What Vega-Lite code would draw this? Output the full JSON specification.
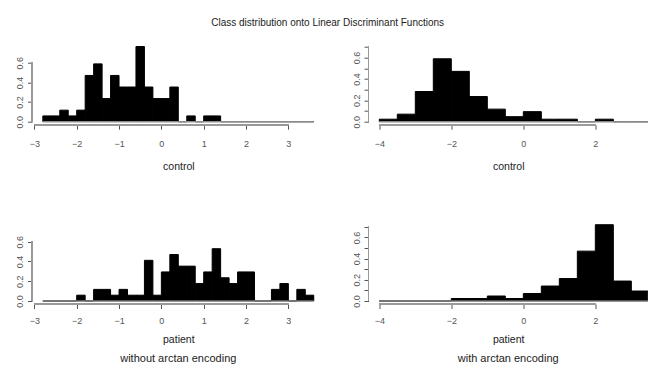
{
  "$schema": "https://vega.github.io/schema/vega-lite/v6.json",
  "autosize": {"type": "none"},
  "padding": {"left": 32, "top": 41.7, "right": 616, "bottom": 328.3},
  "background": "white",
  "title": {"text": "Class distribution onto Linear Discriminant Functions", "fontSize": 10, "font": "Liberation Sans", "fontWeight": "normal", "color": "#222", "anchor": "middle", "offset": 14, "dx": -5},
  "config": {
    "view": {"stroke": null},
    "font": "Liberation Sans",
    "axis": {"grid": false, "domain": false, "ticks": true, "tickColor": "#555", "tickSize": 4.5, "labelFont": "Liberation Sans", "labelFontSize": 9, "labelColor": "#555", "titleFont": "Liberation Sans", "titleFontSize": 10.5, "titleFontWeight": "normal", "titleColor": "#222"},
    "axisX": {"labelPadding": 10, "titlePadding": 13, "labelFlush": false},
    "axisY": {"labelPadding": 3, "title": null, "labelFlush": false, "labelAngle": 270, "labelAlign": "center", "labelBaseline": "bottom"},
    "title": {"font": "Liberation Sans", "fontSize": 11, "fontWeight": "normal", "color": "#222"}
  },
  "datasets": {
    "p1": [
      {"x0": -2.8, "x1": -2.6, "d": 0.0588},
      {"x0": -2.6, "x1": -2.4, "d": 0.0588},
      {"x0": -2.4, "x1": -2.2, "d": 0.1176},
      {"x0": -2.2, "x1": -2.0, "d": 0.0588},
      {"x0": -2.0, "x1": -1.8, "d": 0.1176},
      {"x0": -1.8, "x1": -1.6, "d": 0.4706},
      {"x0": -1.6, "x1": -1.4, "d": 0.5882},
      {"x0": -1.4, "x1": -1.2, "d": 0.2353},
      {"x0": -1.2, "x1": -1.0, "d": 0.4706},
      {"x0": -1.0, "x1": -0.8, "d": 0.3529},
      {"x0": -0.8, "x1": -0.6, "d": 0.3529},
      {"x0": -0.6, "x1": -0.4, "d": 0.7647},
      {"x0": -0.4, "x1": -0.2, "d": 0.3529},
      {"x0": -0.2, "x1": 0.0, "d": 0.2353},
      {"x0": 0.0, "x1": 0.2, "d": 0.2353},
      {"x0": 0.2, "x1": 0.4, "d": 0.3529},
      {"x0": 0.4, "x1": 0.6, "d": 0},
      {"x0": 0.6, "x1": 0.8, "d": 0.0588},
      {"x0": 0.8, "x1": 1.0, "d": 0},
      {"x0": 1.0, "x1": 1.2, "d": 0.0588},
      {"x0": 1.2, "x1": 1.4, "d": 0.0588},
      {"x0": 1.4, "x1": 1.6, "d": 0},
      {"x0": 1.6, "x1": 1.8, "d": 0},
      {"x0": 1.8, "x1": 2.0, "d": 0},
      {"x0": 2.0, "x1": 2.2, "d": 0},
      {"x0": 2.2, "x1": 2.4, "d": 0},
      {"x0": 2.4, "x1": 2.6, "d": 0},
      {"x0": 2.6, "x1": 2.8, "d": 0},
      {"x0": 2.8, "x1": 3.0, "d": 0},
      {"x0": 3.0, "x1": 3.2, "d": 0},
      {"x0": 3.2, "x1": 3.4, "d": 0},
      {"x0": 3.4, "x1": 3.6, "d": 0}
    ],
    "p2": [
      {"x0": -4.0, "x1": -3.5, "d": 0.0235},
      {"x0": -3.5, "x1": -3.0, "d": 0.0706},
      {"x0": -3.0, "x1": -2.5, "d": 0.2824},
      {"x0": -2.5, "x1": -2.0, "d": 0.5882},
      {"x0": -2.0, "x1": -1.5, "d": 0.4706},
      {"x0": -1.5, "x1": -1.0, "d": 0.2353},
      {"x0": -1.0, "x1": -0.5, "d": 0.1176},
      {"x0": -0.5, "x1": 0.0, "d": 0.0471},
      {"x0": 0.0, "x1": 0.5, "d": 0.0941},
      {"x0": 0.5, "x1": 1.0, "d": 0.0235},
      {"x0": 1.0, "x1": 1.5, "d": 0.0235},
      {"x0": 1.5, "x1": 2.0, "d": 0},
      {"x0": 2.0, "x1": 2.5, "d": 0.0235},
      {"x0": 2.5, "x1": 3.0, "d": 0},
      {"x0": 3.0, "x1": 3.5, "d": 0}
    ],
    "p3": [
      {"x0": -2.8, "x1": -2.6, "d": 0},
      {"x0": -2.6, "x1": -2.4, "d": 0},
      {"x0": -2.4, "x1": -2.2, "d": 0},
      {"x0": -2.2, "x1": -2.0, "d": 0},
      {"x0": -2.0, "x1": -1.8, "d": 0.0588},
      {"x0": -1.8, "x1": -1.6, "d": 0},
      {"x0": -1.6, "x1": -1.4, "d": 0.1176},
      {"x0": -1.4, "x1": -1.2, "d": 0.1176},
      {"x0": -1.2, "x1": -1.0, "d": 0.0588},
      {"x0": -1.0, "x1": -0.8, "d": 0.1176},
      {"x0": -0.8, "x1": -0.6, "d": 0.0588},
      {"x0": -0.6, "x1": -0.4, "d": 0.0588},
      {"x0": -0.4, "x1": -0.2, "d": 0.4118},
      {"x0": -0.2, "x1": 0.0, "d": 0.0588},
      {"x0": 0.0, "x1": 0.2, "d": 0.2941},
      {"x0": 0.2, "x1": 0.4, "d": 0.4706},
      {"x0": 0.4, "x1": 0.6, "d": 0.3529},
      {"x0": 0.6, "x1": 0.8, "d": 0.3529},
      {"x0": 0.8, "x1": 1.0, "d": 0.1765},
      {"x0": 1.0, "x1": 1.2, "d": 0.2941},
      {"x0": 1.2, "x1": 1.4, "d": 0.5294},
      {"x0": 1.4, "x1": 1.6, "d": 0.2353},
      {"x0": 1.6, "x1": 1.8, "d": 0.1765},
      {"x0": 1.8, "x1": 2.0, "d": 0.2941},
      {"x0": 2.0, "x1": 2.2, "d": 0.2941},
      {"x0": 2.2, "x1": 2.4, "d": 0},
      {"x0": 2.4, "x1": 2.6, "d": 0},
      {"x0": 2.6, "x1": 2.8, "d": 0.1176},
      {"x0": 2.8, "x1": 3.0, "d": 0.1765},
      {"x0": 3.0, "x1": 3.2, "d": 0},
      {"x0": 3.2, "x1": 3.4, "d": 0.1176},
      {"x0": 3.4, "x1": 3.6, "d": 0.0588}
    ],
    "p4": [
      {"x0": -4.0, "x1": -3.5, "d": 0},
      {"x0": -3.5, "x1": -3.0, "d": 0},
      {"x0": -3.0, "x1": -2.5, "d": 0},
      {"x0": -2.5, "x1": -2.0, "d": 0},
      {"x0": -2.0, "x1": -1.5, "d": 0.0235},
      {"x0": -1.5, "x1": -1.0, "d": 0.0235},
      {"x0": -1.0, "x1": -0.5, "d": 0.0471},
      {"x0": -0.5, "x1": 0.0, "d": 0.0235},
      {"x0": 0.0, "x1": 0.5, "d": 0.0706},
      {"x0": 0.5, "x1": 1.0, "d": 0.1412},
      {"x0": 1.0, "x1": 1.5, "d": 0.2118},
      {"x0": 1.5, "x1": 2.0, "d": 0.4706},
      {"x0": 2.0, "x1": 2.5, "d": 0.72},
      {"x0": 2.5, "x1": 3.0, "d": 0.1882},
      {"x0": 3.0, "x1": 3.5, "d": 0.0941}
    ]
  },
  "columns": 2,
  "bounds": "flush",
  "spacing": {"column": 43.5, "row": 96.3},
  "concat": [
    {
      "width": 292.6, "height": 83,
      "data": {"name": "p1"},
      "layer": [
        {"mark": {"type": "rect", "fill": "black", "stroke": "black", "strokeWidth": 1},
         "encoding": {"x": {"field": "x0", "type": "quantitative", "title": "control", "scale": {"domain": [-3.056, 3.856], "nice": false, "zero": false}, "axis": {"values": [-3, -2, -1, 0, 1, 2, 3], "format": "d"}}, "x2": {"field": "x1"},
                      "y": {"field": "d", "type": "quantitative", "title": null, "scale": {"domain": [-0.0305, 0.814], "nice": false, "zero": false}, "axis": {"tickCount": 4, "labelExpr": "datum.value > 0.7 ? '' : format(datum.value, '.1f')", "tickOpacity": {"condition": {"test": "datum.value > 0.7", "value": 0}, "value": 1}}}, "y2": {"datum": 0}}},
        {"mark": {"type": "rule", "color": "#aaa", "strokeWidth": 1},
         "encoding": {"x": {"aggregate": "min", "field": "x0", "type": "quantitative", "title": "control"},
                      "x2": {"aggregate": "max", "field": "x1"},
                      "y": {"datum": 0, "type": "quantitative"}}},
        {"mark": {"type": "rule", "color": "#999", "strokeWidth": 1},
         "encoding": {"x": {"datum": -3, "type": "quantitative"}, "x2": {"datum": 3}, "y": {"datum": -0.0305, "type": "quantitative"}}},
        {"mark": {"type": "rule", "color": "#999", "strokeWidth": 1},
         "encoding": {"y": {"datum": 0, "type": "quantitative"}, "y2": {"datum": 0.6}, "x": {"datum": -3.056, "type": "quantitative"}}}
      ]
    },
    {
      "width": 279.4, "height": 83,
      "data": {"name": "p2"},
      "layer": [
        {"mark": {"type": "rect", "fill": "black", "stroke": "black", "strokeWidth": 1, "clip": true},
         "encoding": {"x": {"field": "x0", "type": "quantitative", "title": "control", "scale": {"domain": [-4.3, 3.46], "nice": false, "zero": false}, "axis": {"values": [-4, -2, 0, 2], "format": "d"}}, "x2": {"field": "x1"},
                      "y": {"field": "d", "type": "quantitative", "title": null, "scale": {"domain": [-0.028, 0.748], "nice": false, "zero": false}, "axis": {"tickCount": 8, "labelExpr": "round(datum.value*10) % 2 == 0 ? format(datum.value, '.1f') : ''"}}, "y2": {"datum": 0}}},
        {"mark": {"type": "rule", "color": "#aaa", "strokeWidth": 1},
         "encoding": {"x": {"aggregate": "min", "field": "x0", "type": "quantitative", "title": "control"},
                      "x2": {"aggregate": "max", "field": "x1"},
                      "y": {"datum": 0, "type": "quantitative"}}},
        {"mark": {"type": "rule", "color": "#999", "strokeWidth": 1},
         "encoding": {"x": {"datum": -4, "type": "quantitative"}, "x2": {"datum": 2}, "y": {"datum": -0.028, "type": "quantitative"}}},
        {"mark": {"type": "rule", "color": "#999", "strokeWidth": 1},
         "encoding": {"y": {"datum": 0, "type": "quantitative"}, "y2": {"datum": 0.7}, "x": {"datum": -4.3, "type": "quantitative"}}}
      ]
    },
    {
      "width": 292.6, "height": 83,
      "data": {"name": "p3"},
      "title": {"text": "without arctan encoding", "orient": "bottom", "anchor": "middle", "offset": 8},
      "layer": [
        {"mark": {"type": "rect", "fill": "black", "stroke": "black", "strokeWidth": 1},
         "encoding": {"x": {"field": "x0", "type": "quantitative", "title": "patient", "scale": {"domain": [-3.056, 3.856], "nice": false, "zero": false}, "axis": {"values": [-3, -2, -1, 0, 1, 2, 3], "format": "d", "labelPadding": 8, "titlePadding": 9}}, "x2": {"field": "x1"},
                      "y": {"field": "d", "type": "quantitative", "title": null, "scale": {"domain": [-0.0304, 0.81], "nice": false, "zero": false}, "axis": {"tickCount": 4, "labelExpr": "datum.value > 0.7 ? '' : format(datum.value, '.1f')", "tickOpacity": {"condition": {"test": "datum.value > 0.7", "value": 0}, "value": 1}}}, "y2": {"datum": 0}}},
        {"mark": {"type": "rule", "color": "#aaa", "strokeWidth": 1},
         "encoding": {"x": {"aggregate": "min", "field": "x0", "type": "quantitative", "title": "patient"},
                      "x2": {"aggregate": "max", "field": "x1"},
                      "y": {"datum": 0, "type": "quantitative"}}},
        {"mark": {"type": "rule", "color": "#999", "strokeWidth": 1},
         "encoding": {"x": {"datum": -3, "type": "quantitative"}, "x2": {"datum": 3}, "y": {"datum": -0.0304, "type": "quantitative"}}},
        {"mark": {"type": "rule", "color": "#999", "strokeWidth": 1},
         "encoding": {"y": {"datum": 0, "type": "quantitative"}, "y2": {"datum": 0.6}, "x": {"datum": -3.056, "type": "quantitative"}}}
      ]
    },
    {
      "width": 279.4, "height": 83,
      "data": {"name": "p4"},
      "title": {"text": "with arctan encoding", "orient": "bottom", "anchor": "middle", "offset": 8},
      "layer": [
        {"mark": {"type": "rect", "fill": "black", "stroke": "black", "strokeWidth": 1, "clip": true},
         "encoding": {"x": {"field": "x0", "type": "quantitative", "title": "patient", "scale": {"domain": [-4.3, 3.46], "nice": false, "zero": false}, "axis": {"values": [-4, -2, 0, 2], "format": "d", "labelPadding": 8, "titlePadding": 9}}, "x2": {"field": "x1"},
                      "y": {"field": "d", "type": "quantitative", "title": null, "scale": {"domain": [-0.0283, 0.755], "nice": false, "zero": false}, "axis": {"tickCount": 8, "labelExpr": "round(datum.value*10) % 2 == 0 ? format(datum.value, '.1f') : ''"}}, "y2": {"datum": 0}}},
        {"mark": {"type": "rule", "color": "#aaa", "strokeWidth": 1},
         "encoding": {"x": {"aggregate": "min", "field": "x0", "type": "quantitative", "title": "patient"},
                      "x2": {"aggregate": "max", "field": "x1"},
                      "y": {"datum": 0, "type": "quantitative"}}},
        {"mark": {"type": "rule", "color": "#999", "strokeWidth": 1},
         "encoding": {"x": {"datum": -4, "type": "quantitative"}, "x2": {"datum": 2}, "y": {"datum": -0.0283, "type": "quantitative"}}},
        {"mark": {"type": "rule", "color": "#999", "strokeWidth": 1},
         "encoding": {"y": {"datum": 0, "type": "quantitative"}, "y2": {"datum": 0.7}, "x": {"datum": -4.3, "type": "quantitative"}}}
      ]
    }
  ]
}
